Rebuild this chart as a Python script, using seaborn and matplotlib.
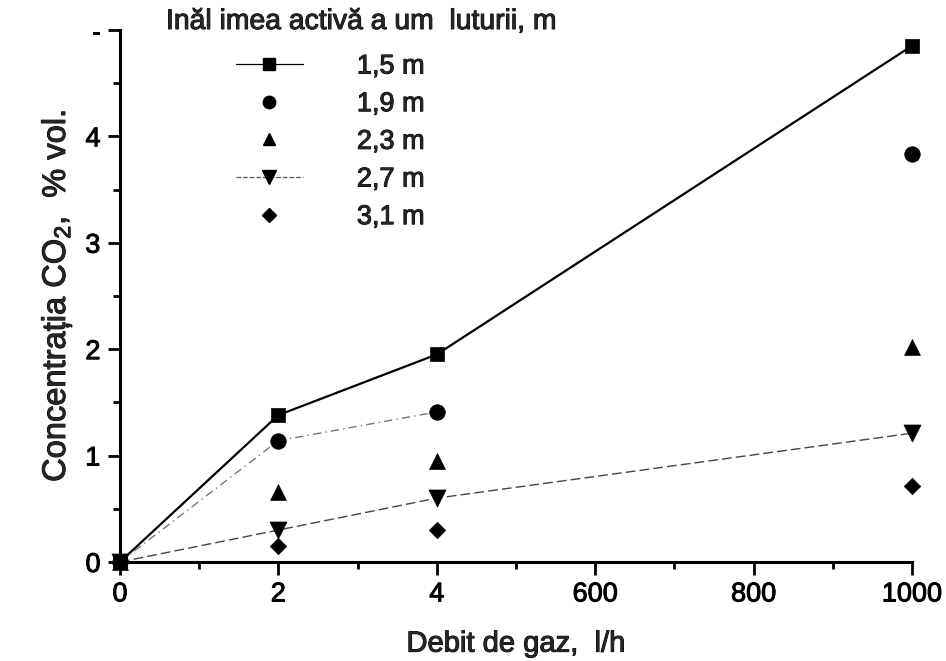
import numpy as np
import pandas as pd
import matplotlib
matplotlib.use("Agg")
import matplotlib.pyplot as plt
import matplotlib.patheffects as pe
from matplotlib.lines import Line2D
import seaborn as sns

# Gas flow values (l/h) and CO2 concentration (% vol.) for each packing height
flow = [0, 2, 4, 1000]
heights = ["1,5 m", "1,9 m", "2,3 m", "2,7 m", "3,1 m"]
co2_15 = [0, 1.38, 1.95, 4.85]
co2_19 = [0, 1.14, 1.41, 3.83]
co2_23 = [0, 0.66, 0.95, 2.02]
co2_27 = [0, 0.30, 0.60, 1.21]
co2_31 = [0, 0.15, 0.30, 0.71]

x_ticks = [0, 2, 4, 600, 800, 1000]
x_tick_labels = ["0", "2", "4", "600", "800", "1000"]
y_ticks = [0, 1, 2, 3, 4, 5]
y_tick_labels = ["0", "1", "2", "3", "4", "-"]
legend_title = "Inăl imea activă a um  luturii, m"

series = [co2_15, co2_19, co2_23, co2_27, co2_31]
df = pd.concat(
    [pd.DataFrame({"flow": flow, "co2": v, "h": h}) for h, v in zip(heights, series)],
    ignore_index=True,
)

sns.set_theme(style="ticks")
plt.rcParams["font.family"] = ["Liberation Sans", "DejaVu Sans"]
plt.rcParams["mathtext.fontset"] = "custom"
plt.rcParams["mathtext.rm"] = "Liberation Sans"
plt.rcParams["mathtext.it"] = "Liberation Sans"

# slightly heavier strokes for all text
heavy = [pe.withStroke(linewidth=0.7, foreground="black")]

fig = plt.figure(figsize=(9.46, 6.61), dpi=100)
ax = fig.add_axes([0.1268, 0.1498, 0.8372, 0.805])


# Broken flow axis: 0-4 l/h on a linear segment, then hundreds of l/h
def fwd(x):
    x = np.asarray(x, dtype=float)
    return np.where(x <= 4, x, np.maximum(4, x / 100.0))


def inv(p):
    p = np.asarray(p, dtype=float)
    return np.where(p <= 4, p, p * 100.0)


ax.set_xscale("function", functions=(fwd, inv))

markers = {"1,5 m": "s", "1,9 m": "o", "2,3 m": "^", "2,7 m": "v", "3,1 m": "D"}
sizes = {"1,5 m": 115, "1,9 m": 125, "2,3 m": 130, "2,7 m": 150, "3,1 m": 70}

# connecting lines
sns.lineplot(data=df[df.h == "1,5 m"], x="flow", y="co2", color="black",
             lw=1.6, ax=ax, legend=False, zorder=2)
sns.lineplot(data=df[(df.h == "1,9 m") & (df.flow <= 4)], x="flow", y="co2",
             color="#777777", lw=1.0, ax=ax, legend=False, zorder=2)
ax.lines[-1].set_dashes([6, 3, 1, 3])
sns.lineplot(data=df[df.h == "2,7 m"], x="flow", y="co2", color="#444444",
             lw=1.0, ax=ax, legend=False, zorder=2)
ax.lines[-1].set_dashes([7, 3])

for h in heights:
    sub = df[df.h == h]
    sns.scatterplot(data=sub, x="flow", y="co2", marker=markers[h], s=sizes[h],
                    color="black", edgecolor="black", linewidth=0.5, ax=ax,
                    legend=False, zorder=3, clip_on=False)

ax.set_xlim(0, 1000)
ax.set_ylim(0, 5)
ax.set_xticks(x_ticks)
ax.set_xticklabels(x_tick_labels)
ax.set_xticks([1, 3, 500, 700, 900], minor=True)
ax.set_yticks(y_ticks)
ax.set_yticklabels(y_tick_labels)
ax.set_yticks([0.5, 1.5, 2.5, 3.5, 4.5], minor=True)

for s in ["top", "right"]:
    ax.spines[s].set_visible(False)
for s in ["left", "bottom"]:
    ax.spines[s].set_linewidth(2.2)
    ax.spines[s].set_color("black")

ax.tick_params(axis="both", which="major", length=9, width=2, labelsize=19.5,
               colors="black", pad=5)
ax.tick_params(axis="both", which="minor", length=5, width=2, colors="black")
for lbl in ax.get_xticklabels() + ax.get_yticklabels():
    lbl.set_path_effects(heavy)

ax.set_xlabel("Debit de gaz,  l/h", fontsize=21, labelpad=16, path_effects=heavy)
ax.set_ylabel("Concentrația CO$_2$,  % vol.", fontsize=23.5, labelpad=8,
              path_effects=heavy)

# legend
handles = []
for h in heights:
    ls = "none"
    col = "black"
    if h == "1,5 m":
        ls = "-"
    elif h == "2,7 m":
        ls = "--"
        col = "#555555"
    handles.append(Line2D([], [], marker=markers[h], color=col, mfc="black",
                          mec="black", linestyle=ls, lw=0.9,
                          markersize=np.sqrt(sizes[h]) * 0.8))
fig.text(166 / 946, 1 - 22 / 661, legend_title, fontsize=20.4, ha="left",
         va="center", path_effects=heavy)
leg = ax.legend(handles, heights, loc="upper left",
                bbox_to_anchor=(222 / 946, 1 - 40 / 661),
                bbox_transform=fig.transFigure, frameon=False,
                fontsize=19.5, handlelength=2.5, handletextpad=1.98,
                labelspacing=0.43, borderpad=0)
for t in leg.get_texts():
    t.set_path_effects(heavy)

fig.savefig("out.png", dpi=100)
